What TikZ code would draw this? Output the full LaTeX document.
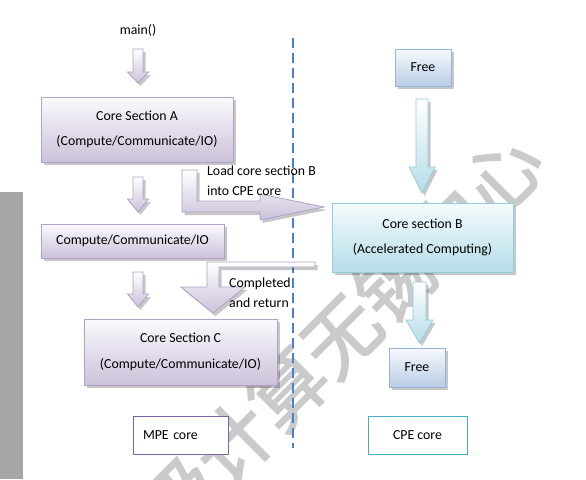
\documentclass[tikz,border=0pt]{standalone}
\usepackage{fontspec}
\setmainfont{Carlito}
\newfontfamily\cjkwm[FakeBold=2.2]{Noto Sans CJK SC}
\usetikzlibrary{shadows}
\definecolor{pBorder}{HTML}{B2A1C7}
\definecolor{pTop}{HTML}{FBFAFD}
\definecolor{pBot}{HTML}{CCC1DA}
\definecolor{cBorder}{HTML}{93CDDD}
\definecolor{cTop}{HTML}{F4FBFD}
\definecolor{cBot}{HTML}{B6DDE8}
\definecolor{fBorder}{HTML}{95B3D7}
\definecolor{fTop}{HTML}{F7F9FD}
\definecolor{fBot}{HTML}{B9CDE5}
\definecolor{mpeC}{HTML}{8064A2}
\definecolor{cpeC}{HTML}{4BACC6}
\definecolor{dashC}{HTML}{4A80D4}
\definecolor{barC}{HTML}{A6A6A6}
\definecolor{wmC}{HTML}{CACACA}
\tikzset{
  shad/.style={drop shadow={shadow xshift=2.5pt, shadow yshift=-3pt, fill=black, opacity=.22}},
  pbox/.style={shad, draw=pBorder, line width=1pt, top color=pTop, bottom color=pBot, inner sep=0pt, align=center},
  cbox/.style={shad, draw=cBorder, line width=1pt, top color=cTop, bottom color=cBot, inner sep=0pt, align=center},
  fbox/.style={shad, draw=fBorder, line width=1pt, top color=fTop, bottom color=fBot, inner sep=0pt, align=center},
  legbox/.style={draw=#1, line width=1pt, fill=white, inner sep=0pt},
  parrow/.style={shad, draw=pBorder, line width=0.8pt, top color=white, bottom color=pBot, line join=miter},
  carrow/.style={shad, draw=cBorder, line width=0.8pt, top color=white, bottom color=cBot, line join=miter},
  lbl/.style={inner sep=0pt, align=left, anchor=west, font=\fontsize{13.8}{20}\selectfont},
  dashline/.style={draw=dashC, line width=2.5pt, dash pattern=on 10pt off 5pt}
}
\begin{document}
\begin{tikzpicture}[x=1pt, y=-1pt, font=\fontsize{13.8}{25.5}\selectfont]
\useasboundingbox (0,0) rectangle (586,479);
% watermark
\begin{scope}
\clip (0,0) rectangle (586,479);
\node[rotate=45, text=wmC, inner sep=0pt, font=\cjkwm\fontsize{76}{76}\selectfont] (wm) at (314,362) {超级计算无锡中心};
\end{scope}
% grey bar
\fill[barC] (0,192) rectangle (23,479);
% separator
\coordinate (sepTop) at (293,38);
\coordinate (sepBot) at (293,448);
\draw[dashline] (sepTop) -- (sepBot);
% MPE side
\node[inner sep=0pt] (main) at (138,30) {main()};
\node[pbox, minimum width=192pt, minimum height=65pt] (A) at (137,129.5) {Core Section A\\(Compute/Communicate/IO)};
\node[pbox, minimum width=183pt, minimum height=34pt] (M) at (132.5,241) {Compute/Communicate/IO};
\node[pbox, minimum width=193pt, minimum height=66pt] (C) at (180.5,352) {Core Section C\\(Compute/Communicate/IO)};
\node[legbox=mpeC, minimum width=95pt, minimum height=38pt, text width=75pt, inner xsep=10pt, align=left] (mpe) at (180.5,435) {MPE core};
% CPE side
\node[fbox, minimum width=56pt, minimum height=37pt] (F1) at (423,67.5) {Free};
\node[cbox, minimum width=181pt, minimum height=69pt] (B) at (422.5,237.5) {Core section B\\(Accelerated Computing)};
\node[fbox, minimum width=56pt, minimum height=39pt] (F2) at (417,367.5) {Free};
\node[legbox=cpeC, minimum width=99pt, minimum height=38pt] (cpe) at (417.5,435) {CPE core};
% purple block arrows (main -> A -> M -> C)
\draw[parrow] (133,49) -- (143,49) -- (143,72) -- (148.5,72) -- (138,83) -- (127.5,72) -- (133,72) -- cycle;
\draw[parrow] (133,177) -- (143,177) -- (143,199) -- (148.5,199) -- (138,212) -- (127.5,199) -- (133,199) -- cycle;
\draw[parrow] (133,272) -- (143,272) -- (143,294) -- (148.5,294) -- (138,307) -- (127.5,294) -- (133,294) -- cycle;
% cyan block arrows (F1 -> B -> F2)
\draw[carrow] (416,99) -- (428,99) -- (428,167) -- (435,167) -- (422,193) -- (409,167) -- (416,167) -- cycle;
\draw[carrow] (413,282) -- (426,282) -- (426,320) -- (433,320) -- (419.5,343) -- (406,320) -- (413,320) -- cycle;
% bent arrow: load B into CPE
\draw[parrow] (182,170) -- (197,170) -- (197,201) -- (260,201) -- (260,194) -- (324,207) -- (260,220) -- (260,212) -- (182,212) -- cycle;
\node[lbl] (loadlbl) at (207,181) {Load core section B\\into CPE core};
% bent arrow: completed and return
\draw[parrow] (315,262) -- (315,267) -- (219,267) -- (219,287) -- (245,287) -- (213,313) -- (181,287) -- (207,287) -- (207,262) -- cycle;
\node[lbl] (retlbl) at (229,293) {Completed\\and return};
\end{tikzpicture}
\end{document}
